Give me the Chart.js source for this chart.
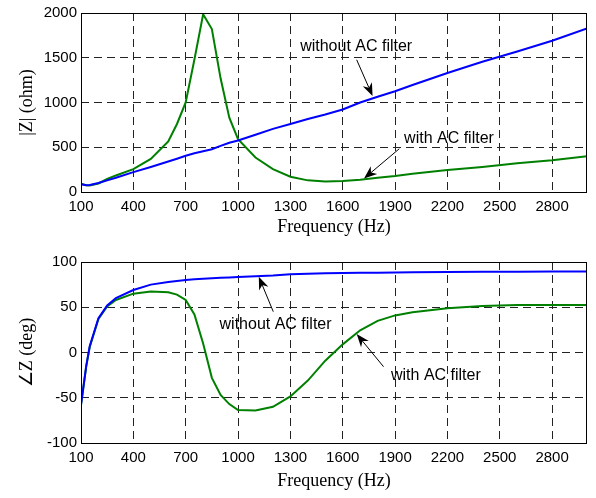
<!DOCTYPE html>
<html>
<head>
<meta charset="utf-8">
<script src="https://cdn.jsdelivr.net/npm/chart.js@4.4.0/dist/chart.umd.min.js"></script>
<style>
  body { margin: 0; background: #fff; }
  #wrap { position: relative; width: 596px; height: 498px; }
  canvas { position: absolute; left: 0; }
</style>
</head>
<body>
<div id="wrap">
  <canvas id="magChart" width="596" height="248" style="top:0"></canvas>
  <canvas id="phaseChart" width="596" height="250" style="top:248px"></canvas>
</div>
<script>
// frequency points (Hz) shared by all curves
let freq = [100, 130, 150, 200, 250, 300, 400, 500, 600, 650, 700, 750, 800, 850, 900, 950,
            1000, 1100, 1200, 1300, 1400, 1500, 1600, 1700, 1800, 1900, 2000, 2200, 2400, 2600, 2800, 3000];

// |Z| (ohm)
let magWithout = [88, 75, 78, 100, 130, 160, 222, 280, 340, 372, 405, 432, 455, 478, 515, 550,
                  575, 640, 705, 760, 815, 865, 922, 1000, 1065, 1125, 1195, 1330, 1455, 1570, 1690, 1827];
let magWith = [92, 75, 72, 95, 145, 185, 255, 370, 565, 760, 1000, 1480, 1985, 1820, 1270, 830,
               590, 385, 255, 170, 130, 118, 122, 138, 160, 178, 205, 245, 280, 320, 355, 400];

// angle Z (deg)
let phaseWithout = [-58, -15, 7, 38, 52, 60, 69, 75, 78, 79, 80, 81, 81.5, 82, 82.5, 83,
                    83.4, 84.3, 85, 86.5, 87, 87.5, 87.8, 88, 88.2, 88.4, 88.6, 89, 89.2, 89.3, 89.4, 89.5];
let phaseWith = [-58, -15, 6, 37, 51, 58, 65, 67.5, 66.5, 64, 58, 42, 10, -28, -47, -57,
                 -63.5, -64, -60, -48.5, -31, -9, 9, 24.5, 35, 41, 44.5, 49, 51.5, 52.5, 52.5, 52.5];

let freqTicks = [100, 400, 700, 1000, 1300, 1600, 1900, 2200, 2500, 2800];
let magTicks = [0, 500, 1000, 1500, 2000];
let phaseTicks = [-100, -50, 0, 50, 100];

const tickFont = { family: "'Liberation Sans', Arial, sans-serif", size: 15 };
const titleFont = { family: "'Liberation Serif', 'Times New Roman', serif", size: 18 };

function toPoints(xs, ys) {
    return xs.map((v, i) => ({ x: v, y: ys[i] }));
}

// draws the box round the plot and the text / arrow notes
const boxAndNotes = {
    id: 'boxAndNotes',
    afterDatasetsDraw(chart, args, opts) {
        const ctx = chart.ctx;
        const a = chart.chartArea;
        const sx = chart.scales.x, sy = chart.scales.y;
        ctx.save();
        ctx.strokeStyle = '#000';
        ctx.lineWidth = 1;
        ctx.strokeRect(Math.round(a.left) + 0.5, Math.round(a.top) + 0.5,
                       Math.round(a.right - a.left) - 1, Math.round(a.bottom - a.top));

        (opts.items || []).forEach(n => {
            const x1 = sx.getPixelForValue(n.from[0]), y1 = sy.getPixelForValue(n.from[1]);
            const x2 = sx.getPixelForValue(n.to[0]), y2 = sy.getPixelForValue(n.to[1]);
            const ang = Math.atan2(y2 - y1, x2 - x1);
            const len = 13, half = 5;
            ctx.beginPath();
            ctx.moveTo(x1, y1);
            ctx.lineTo(x2 - Math.cos(ang) * len * 0.7, y2 - Math.sin(ang) * len * 0.7);
            ctx.stroke();
            // notched arrow head
            ctx.beginPath();
            ctx.moveTo(x2, y2);
            ctx.lineTo(x2 - Math.cos(ang) * len + Math.sin(ang) * half, y2 - Math.sin(ang) * len - Math.cos(ang) * half);
            ctx.lineTo(x2 - Math.cos(ang) * len * 0.7, y2 - Math.sin(ang) * len * 0.7);
            ctx.lineTo(x2 - Math.cos(ang) * len - Math.sin(ang) * half, y2 - Math.sin(ang) * len + Math.cos(ang) * half);
            ctx.closePath();
            ctx.fillStyle = '#000';
            ctx.fill();

            ctx.font = "16px 'Liberation Sans', Arial, sans-serif";
            ctx.textAlign = 'center';
            ctx.textBaseline = 'middle';
            ctx.fillText(n.text, sx.getPixelForValue(n.at[0]), sy.getPixelForValue(n.at[1]));
        });
        ctx.restore();
    }
};

function makeOptions(yMin, yMax, yValues, yTitle, padTop, xHeight, xTitlePad, notes) {
    return {
        responsive: false,
        animation: false,
        layout: { padding: { top: padTop, right: 9, left: 0, bottom: 0 } },
        plugins: {
            legend: { display: false },
            tooltip: { enabled: false },
            boxAndNotes: { items: notes }
        },
        elements: { point: { radius: 0 }, line: { borderWidth: 2, tension: 0 } },
        scales: {
            x: {
                type: 'linear',
                min: 100,
                max: 3000,
                afterBuildTicks: s => { s.ticks = freqTicks.map(v => ({ value: v })); },
                afterFit: s => { s.height = xHeight; },
                ticks: { font: tickFont, color: '#000', padding: 6, maxRotation: 0, autoSkip: false,
                         callback: v => String(v) },
                grid: { color: '#222', lineWidth: 1, drawTicks: false },
                border: { display: false, dash: [8, 5] },
                title: { display: true, text: 'Frequency (Hz)', font: titleFont, color: '#000',
                         padding: { top: 0, bottom: xTitlePad } }
            },
            y: {
                min: yMin,
                max: yMax,
                afterBuildTicks: s => { s.ticks = yValues.map(v => ({ value: v })); },
                afterFit: s => { s.width = 81; },
                ticks: { font: tickFont, color: '#000', padding: 4, callback: v => String(v) },
                grid: { color: '#222', lineWidth: 1, drawTicks: false },
                border: { display: false, dash: [8, 5] },
                title: { display: true, text: yTitle, font: titleFont, color: '#000',
                         padding: { top: 16, bottom: 0 } }
            }
        }
    };
}

let magChart = new Chart(document.getElementById("magChart").getContext("2d"), {
    type: "line",
    data: {
        datasets: [
            { label: "without AC filter", data: toPoints(freq, magWithout), borderColor: "#0000ff" },
            { label: "with AC filter", data: toPoints(freq, magWith), borderColor: "#008000" }
        ]
    },
    options: makeOptions(0, 2000, magTicks, "|Z| (ohm)", 11, 56, 10, [
        { text: "without AC filter", at: [1677, 1624], from: [1680, 1477], to: [1771, 1072] },
        { text: "with AC filter", at: [2209, 597], from: [1924, 483], to: [1722, 151] }
    ]),
    plugins: [boxAndNotes]
});

let phaseChart = new Chart(document.getElementById("phaseChart").getContext("2d"), {
    type: "line",
    data: {
        datasets: [
            { label: "without AC filter", data: toPoints(freq, phaseWithout), borderColor: "#0000ff" },
            { label: "with AC filter", data: toPoints(freq, phaseWith), borderColor: "#008000" }
        ]
    },
    options: makeOptions(-100, 100, phaseTicks, "\u2220Z (deg)", 14, 55, 6, [
        { text: "without AC filter", at: [1215, 30.4], from: [1202, 45.1], to: [1119, 83.8] },
        { text: "with AC filter", at: [2134, -26], from: [1834, -15.7], to: [1680, 20.4] }
    ]),
    plugins: [boxAndNotes]
});
</script>
</body>
</html>
